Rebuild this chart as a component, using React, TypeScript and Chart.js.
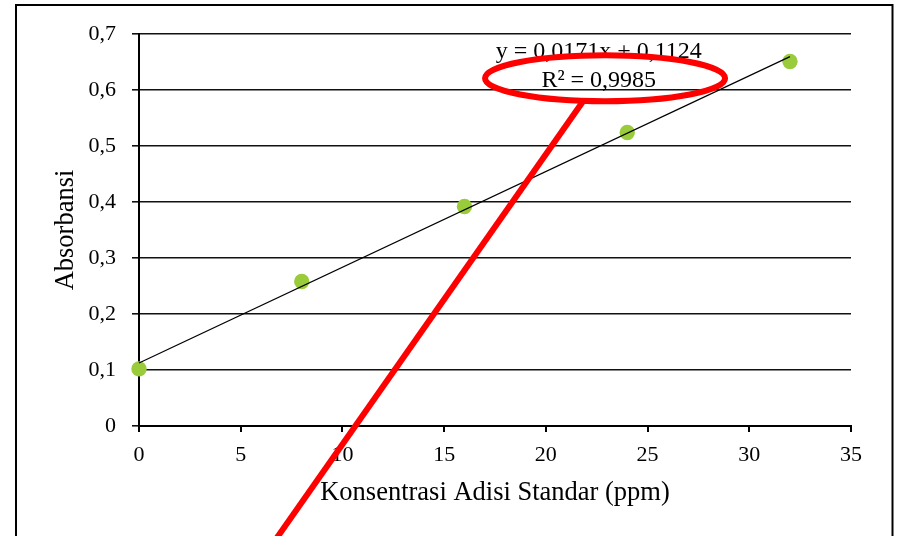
import { useEffect, useRef } from "react";
import { Chart, registerables } from "chart.js";

Chart.register(...registerables);

// ---- data ----
const concentrations = [0, 8, 16, 24, 32];
const absorbances = [0.102, 0.258, 0.392, 0.524, 0.651];
const trendX = [0, 32];
const trendY = [0.1124, 0.6596];
const equationLines = ["y = 0,0171x + 0,1124", "R² = 0,9985"];
const xTitle = "Konsentrasi Adisi Standar (ppm)";
const yTitle = "Absorbansi";

// annotation placement, in data units
const eqX = 22.6;
const eqBaselines = [0.657, 0.605];
const ellipseCenter = [22.91, 0.621];
const ellipseRadii = [5.9, 0.041];
const pointerStart = [21.83, 0.58];
const pointerEnd = [6.0, -0.24];

const FONT = '"Liberation Serif", "Times New Roman", serif';

const fmt = (v: number) => (v === 0 ? "0" : Number(v).toFixed(1).replace(".", ","));

const framePlugin = {
  id: "frame",
  beforeDraw(chart: any) {
    const ctx = chart.ctx;
    ctx.save();
    ctx.fillStyle = "#fff";
    ctx.fillRect(0, 0, chart.width, chart.height);
    ctx.strokeStyle = "#000";
    ctx.lineWidth = 2;
    ctx.strokeRect(16, 5, 876.5, 700);
    ctx.restore();
  },
};

const annotationPlugin = {
  id: "annot",
  afterDatasetsDraw(chart: any) {
    const ctx = chart.ctx;
    const xs = chart.scales.x;
    const ys = chart.scales.y;
    ctx.save();
    // equation text
    ctx.fillStyle = "#000";
    ctx.font = `24px ${FONT}`;
    ctx.textAlign = "center";
    ctx.textBaseline = "alphabetic";
    equationLines.forEach((t, i) => {
      ctx.fillText(t, xs.getPixelForValue(eqX), ys.getPixelForValue(eqBaselines[i]));
    });
    // red ellipse
    const cx = xs.getPixelForValue(ellipseCenter[0]);
    const cy = ys.getPixelForValue(ellipseCenter[1]);
    const rx = xs.getPixelForValue(ellipseCenter[0] + ellipseRadii[0]) - cx;
    const ry = cy - ys.getPixelForValue(ellipseCenter[1] + ellipseRadii[1]);
    ctx.strokeStyle = "#ff0000";
    ctx.lineWidth = 6;
    ctx.beginPath();
    ctx.ellipse(cx, cy, rx, ry, 0, 0, Math.PI * 2);
    ctx.stroke();
    // red pointer line
    ctx.beginPath();
    ctx.moveTo(xs.getPixelForValue(pointerStart[0]), ys.getPixelForValue(pointerStart[1]));
    ctx.lineTo(xs.getPixelForValue(pointerEnd[0]), ys.getPixelForValue(pointerEnd[1]));
    ctx.stroke();
    ctx.restore();
  },
};

export default function App() {
  const ref = useRef<HTMLCanvasElement | null>(null);

  useEffect(() => {
    if (!ref.current) return;
    const chart = new Chart(ref.current, {
      type: "scatter",
      data: {
        datasets: [
          {
            type: "line",
            data: trendX.map((x, i) => ({ x, y: trendY[i] })),
            borderColor: "#000",
            borderWidth: 1.2,
            pointRadius: 0,
            fill: false,
            clip: false,
          } as any,
          {
            data: concentrations.map((x, i) => ({ x, y: absorbances[i] })),
            backgroundColor: "#9ACB3A",
            borderColor: "#9ACB3A",
            pointRadius: 7.7,
            pointHoverRadius: 7.7,
            borderWidth: 0,
            clip: false,
          } as any,
        ],
      },
      plugins: [framePlugin, annotationPlugin],
      options: {
        responsive: false,
        animation: false,
        layout: { padding: { top: 34, right: 46, left: 0, bottom: 0 } },
        plugins: {
          legend: { display: false },
          tooltip: { enabled: false },
        },
        scales: {
          x: {
            type: "linear",
            min: 0,
            max: 35,
            afterFit: (s: any) => {
              s.height = 110;
            },
            ticks: {
              stepSize: 5,
              color: "#000",
              padding: 10,
              font: { family: FONT, size: 22 },
            },
            grid: { drawOnChartArea: false, drawTicks: true, tickLength: 6, color: "#000", lineWidth: 2 },
            border: { display: true, color: "#000", width: 2 },
            title: {
              display: true,
              text: xTitle,
              color: "#000",
              font: { family: FONT, size: 26.5 },
              padding: { top: 0, bottom: 27 },
            },
          },
          y: {
            type: "linear",
            min: 0,
            max: 0.7,
            afterFit: (s: any) => {
              s.width = 139;
            },
            ticks: {
              stepSize: 0.1,
              color: "#000",
              padding: 16,
              font: { family: FONT, size: 22 },
              callback: (v: any) => fmt(Number(v)),
            },
            grid: { drawOnChartArea: true, drawTicks: true, tickLength: 7, color: "#111", lineWidth: 1.6 },
            border: { display: true, color: "#000", width: 2 },
            title: {
              display: true,
              text: yTitle,
              color: "#000",
              font: { family: FONT, size: 26.5 },
              padding: { top: 50, bottom: 0 },
            },
          },
        },
      },
    });
    return () => chart.destroy();
  }, []);

  return (
    <div style={{ position: "fixed", left: 0, top: 0, width: 897, height: 536 }}>
      <canvas ref={ref} width={897} height={536} style={{ display: "block" }} />
    </div>
  );
}
